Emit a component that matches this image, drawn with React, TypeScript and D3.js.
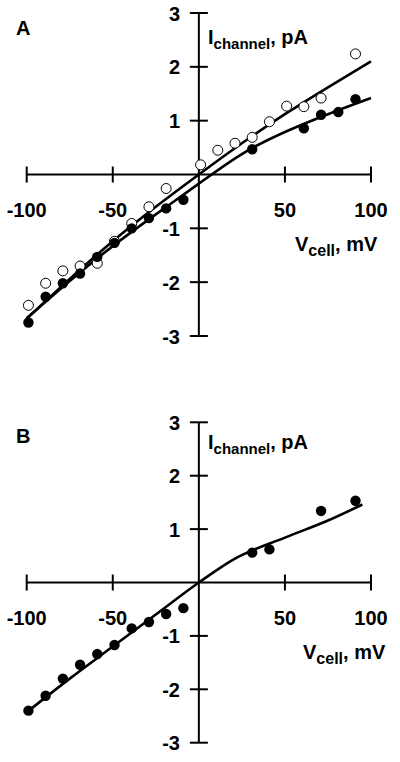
import React from "react";
import * as d3 from "d3";

// Panel A — open circles
const aOpenV = [-99, -89, -79, -69, -59, -49, -39, -29, -19, 1, 11, 21, 31, 41, 51, 61, 71, 91];
const aOpenI = [-2.43, -2.02, -1.79, -1.7, -1.65, -1.24, -0.91, -0.6, -0.26, 0.18, 0.45, 0.58, 0.69, 0.98, 1.27, 1.26, 1.42, 2.24];
// Panel A — filled circles
const aFillV = [-99, -89, -79, -69, -59, -49, -39, -29, -19, -9, 31, 61, 71, 81, 91];
const aFillI = [-2.75, -2.27, -2.02, -1.84, -1.53, -1.27, -1.0, -0.81, -0.63, -0.47, 0.47, 0.86, 1.11, 1.16, 1.4];
// Panel A — fitted curves
const aFitV = [-100, -75, -50, -25, 0, 25, 50, 75, 100];
const aFitUpperI = [-2.68, -1.94, -1.24, -0.6, 0.0, 0.58, 1.12, 1.62, 2.1];
const aFitLowerI = [-2.67, -1.98, -1.33, -0.74, -0.17, 0.38, 0.79, 1.12, 1.42];

// Panel B — filled circles
const bFillV = [-99, -89, -79, -69, -59, -49, -39, -29, -19, -9, 31, 41, 71, 91];
const bFillI = [-2.4, -2.12, -1.8, -1.54, -1.34, -1.17, -0.86, -0.74, -0.59, -0.48, 0.56, 0.62, 1.34, 1.53];
// Panel B — fitted curve
const bFitV = [-100, -75, -50, -25, 0, 20, 50, 75, 95];
const bFitI = [-2.43, -1.8, -1.2, -0.6, 0.0, 0.43, 0.84, 1.16, 1.46];

const xTicks = [-100, -50, 50, 100];
const yTicks = [3, 2, 1, -1, -2, -3];

const FONT = "'Liberation Sans', Arial, Helvetica, sans-serif";

type Series = { v: number[]; i: number[] };
type PanelProps = {
  label: string;
  top: number;
  bottom: number;
  labelY: number;
  iLabelY: number;
  vLabelX: number;
  fits: Series[];
  curve: d3.CurveFactory;
  open?: Series;
  filled: Series;
};

function Panel({ label, top, bottom, labelY, iLabelY, vLabelX, fits, curve, open, filled }: PanelProps) {
  const x = d3.scaleLinear().domain([-100, 100]).range([26.7, 371]);
  const y = d3.scaleLinear().domain([-3, 3]).range([bottom, top]);
  const x0 = x(0);
  const y0 = y(0);
  const line = d3
    .line<[number, number]>()
    .x((d) => x(d[0]))
    .y((d) => y(d[1]))
    .curve(curve);
  const tick = 8;
  return (
    <g fontFamily={FONT} fontWeight="bold">
      <text x={16} y={labelY} fontSize={20}>
        {label}
      </text>
      {/* axes */}
      <line x1={x(-100)} x2={x(100)} y1={y0} y2={y0} stroke="#000" strokeWidth={2} />
      <line x1={x0} x2={x0} y1={y(3)} y2={y(-3)} stroke="#000" strokeWidth={2} />
      {xTicks.map((t) => (
        <g key={"x" + t}>
          <line x1={x(t)} x2={x(t)} y1={y0 - tick} y2={y0 + tick} stroke="#000" strokeWidth={2} />
          <text x={x(t)} y={y0 + 42} fontSize={20} textAnchor="middle">
            {t}
          </text>
        </g>
      ))}
      {yTicks.map((t) => (
        <g key={"y" + t}>
          <line x1={x0 - 9} x2={x0 + 9} y1={y(t)} y2={y(t)} stroke="#000" strokeWidth={2} />
          <text x={180} y={y(t) + 7.5} fontSize={20} textAnchor="end">
            {t}
          </text>
        </g>
      ))}
      {/* axis labels */}
      <text x={208} y={iLabelY} fontSize={20}>
        I
        <tspan fontSize={15} dy={5}>
          channel
        </tspan>
        <tspan dy={-5}>, pA</tspan>
      </text>
      <text x={vLabelX} y={y0 + 76} fontSize={20}>
        V
        <tspan fontSize={16} dy={5}>
          cell
        </tspan>
        <tspan dy={-5}>, mV</tspan>
      </text>
      {/* fits */}
      {fits.map((f, k) => (
        <path
          key={"f" + k}
          d={line(f.v.map((v, j) => [v, f.i[j]] as [number, number])) || ""}
          fill="none"
          stroke="#000"
          strokeWidth={2.6}
        />
      ))}
      {open &&
        open.v.map((v, j) => (
          <circle key={"o" + j} cx={x(v)} cy={y(open.i[j])} r={5} fill="#fff" stroke="#000" strokeWidth={1} />
        ))}
      {filled.v.map((v, j) => (
        <circle key={"c" + j} cx={x(v)} cy={y(filled.i[j])} r={5.2} fill="#000" />
      ))}
    </g>
  );
}

export default function App() {
  return (
    <svg width={400} height={762} style={{ position: "absolute", left: 0, top: 0, background: "#fff" }}>
      <rect width={400} height={762} fill="#fff" />
      <Panel
        label="A"
        top={13}
        bottom={336}
        labelY={35}
        iLabelY={43.5}
        vLabelX={295}
        curve={d3.curveNatural}
        fits={[
          { v: aFitV, i: aFitUpperI },
          { v: aFitV, i: aFitLowerI },
        ]}
        open={{ v: aOpenV, i: aOpenI }}
        filled={{ v: aFillV, i: aFillI }}
      />
      <Panel
        label="B"
        top={422.3}
        bottom={742.7}
        labelY={443}
        iLabelY={448.5}
        vLabelX={303}
        curve={d3.curveMonotoneX}
        fits={[{ v: bFitV, i: bFitI }]}
        filled={{ v: bFillV, i: bFillI }}
      />
    </svg>
  );
}
